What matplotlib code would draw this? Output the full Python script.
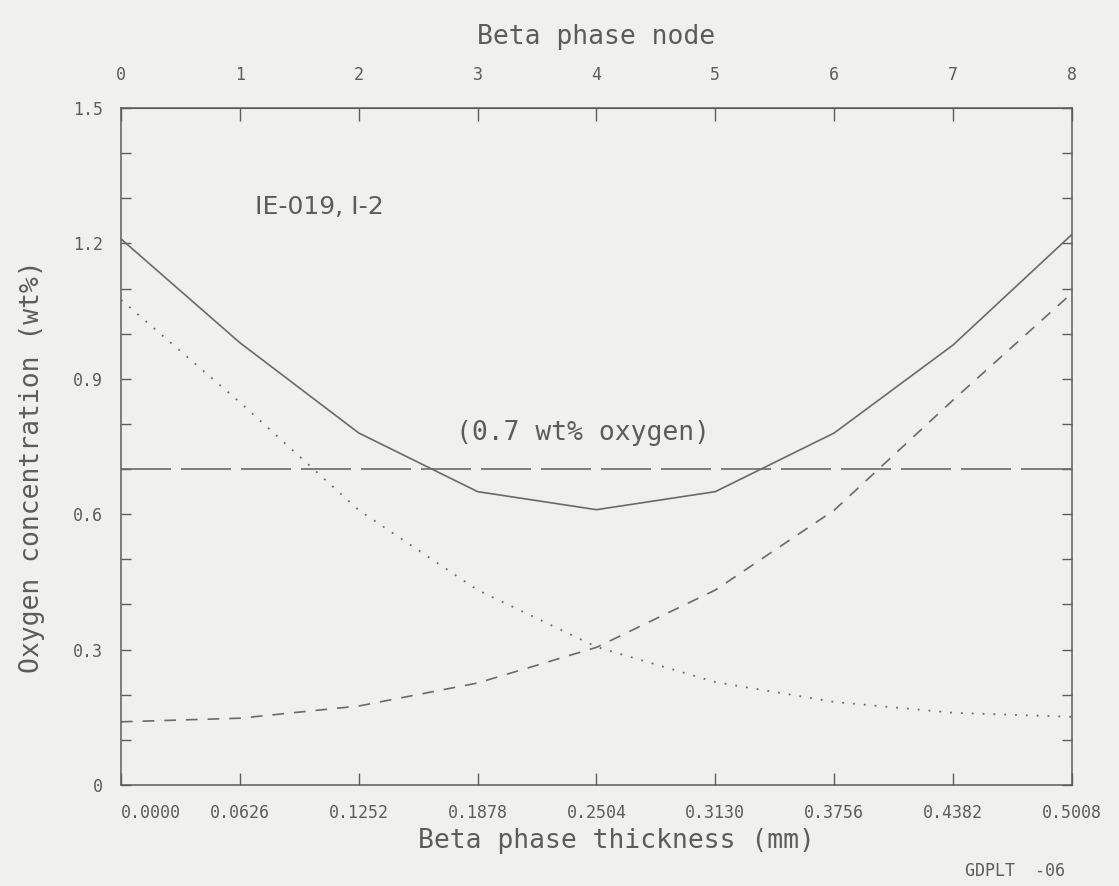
import matplotlib
matplotlib.use("Agg")
import matplotlib.pyplot as plt
from matplotlib.ticker import MultipleLocator, FixedLocator, FuncFormatter

# Beta phase nodes and their thickness positions (mm)
nodes = [0, 1, 2, 3, 4, 5, 6, 7, 8]
thickness = [0.0000, 0.0626, 0.1252, 0.1878, 0.2504, 0.3130, 0.3756, 0.4382, 0.5008]
thickness_labels = ["0.0000", "0.0626", "0.1252", "0.1878", "0.2504",
                    "0.3130", "0.3756", "0.4382", "0.5008"]

# Oxygen concentration profiles (wt%)
total_oxygen = [1.21, 0.98, 0.78, 0.65, 0.61, 0.65, 0.78, 0.975, 1.22]
rising_profile = [0.14, 0.148, 0.175, 0.226, 0.305, 0.432, 0.609, 0.853, 1.09]
falling_profile = [1.075, 0.848, 0.609, 0.432, 0.306, 0.228, 0.184, 0.160, 0.151]
oxygen_limit = 0.7

ink = "#5c5c5c"
line_col = "#6a6a6a"
bg = "#f0f0ee"
mono = ["DejaVu Sans Mono"]

plt.rcParams["font.family"] = ["DejaVu Sans"]

fig = plt.figure(figsize=(11.19, 8.86), dpi=100, facecolor=bg)
ax = fig.add_axes([0.1081, 0.1140, 0.8499, 0.7641], facecolor=bg)

ax.plot(thickness, total_oxygen, color=line_col, lw=1.2, ls="-")
ax.plot(thickness, rising_profile, color=line_col, lw=1.2, ls=(0, (7, 6)))
ax.plot(thickness, falling_profile, color=line_col, lw=1.3, ls=(0, (1, 5)))
ax.axhline(oxygen_limit, color=line_col, lw=1.2, ls=(0, (30, 6)))

ax.set_xlim(thickness[0], thickness[-1])
ax.set_ylim(0, 1.5)

for side in ax.spines.values():
    side.set_color(ink)
    side.set_linewidth(1.1)

# Bottom axis: thickness
ax.xaxis.set_major_locator(FixedLocator(thickness))
ax.set_xticklabels(thickness_labels, family=mono)
ax.tick_params(axis="x", which="both", direction="in", length=9, width=1,
               color=ink, labelcolor=ink, labelsize=12, pad=14)
ax.get_xticklabels()[0].set_horizontalalignment("left")

# Left/right axis: concentration
ax.yaxis.set_major_locator(MultipleLocator(0.3))
ax.yaxis.set_minor_locator(MultipleLocator(0.1))
ax.yaxis.set_major_formatter(FuncFormatter(
    lambda v, p: "0" if abs(v) < 1e-9 else f"{v:.1f}"))
ax.tick_params(axis="y", which="both", direction="in", length=7, width=1,
               color=ink, labelcolor=ink, labelsize=12, pad=13, right=True)
for lab in ax.get_yticklabels():
    lab.set_family(mono)

ax.set_xlabel("Beta phase thickness (mm)", fontsize=19, color=ink,
              family=mono)
ax.xaxis.set_label_coords(0.5205, -0.063)
ax.set_ylabel("Oxygen concentration (wt%)", fontsize=19, color=ink,
              family=mono)
ax.yaxis.set_label_coords(-0.080, 0.47)

# Top axis: node index
node_step = thickness[1] - thickness[0]
top = ax.secondary_xaxis("top", functions=(lambda t: t / node_step,
                                           lambda n: n * node_step))
top.xaxis.set_major_locator(FixedLocator(nodes))
top.tick_params(direction="in", length=9, width=1, color=ink,
                labelcolor=ink, labelsize=12, pad=17)
for lab in top.get_xticklabels():
    lab.set_family(mono)
top.spines["top"].set_color(ink)
top.set_xlabel("Beta phase node", fontsize=19, color=ink, family=mono,
               labelpad=16)

ax.text(0.141, 0.854, "IE-019, I-2", transform=ax.transAxes,
        fontsize=18, color=ink, ha="left", va="center")
ax.text(0.486, 0.52, "(0.7 wt% oxygen)", transform=ax.transAxes,
        fontsize=19, color=ink, ha="center", va="center", family=mono)

fig.text(0.952, 0.007, "GDPLT  -06", fontsize=12, color=ink,
         ha="right", va="bottom", family=mono)

fig.savefig("out.png", dpi=100, facecolor=bg)
